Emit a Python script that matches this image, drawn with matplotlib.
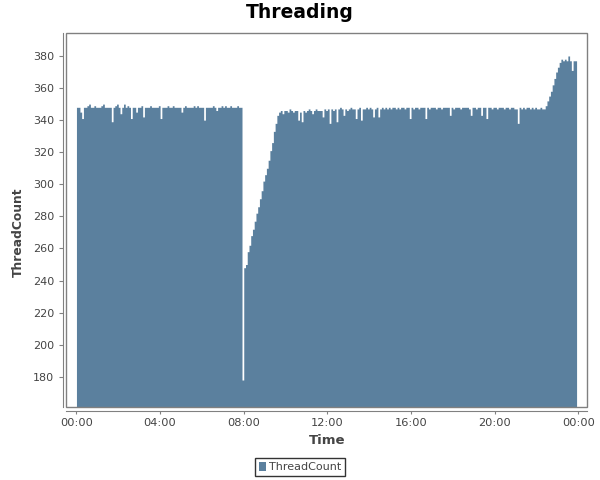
import numpy as np
import matplotlib
matplotlib.use('Agg')
import matplotlib.pyplot as plt
from matplotlib.patches import Rectangle

# leituras a cada 5 minutos, uma linha por hora (00, 05, ..., 55)
h00 = [348, 348, 345, 341, 348, 348, 349, 350, 348, 348, 349, 348]
h01 = [348, 348, 349, 350, 348, 348, 348, 348, 339, 348, 349, 350]
h02 = [348, 344, 348, 350, 348, 349, 348, 341, 348, 348, 345, 348]
h03 = [348, 349, 342, 348, 348, 348, 349, 348, 348, 348, 348, 349]
h04 = [341, 348, 348, 348, 349, 348, 348, 349, 348, 348, 348, 348]
h05 = [345, 348, 349, 348, 348, 348, 348, 349, 348, 349, 348, 348]
h06 = [348, 340, 348, 348, 348, 348, 349, 348, 346, 348, 348, 349]
h07 = [348, 349, 348, 348, 349, 348, 348, 348, 349, 348, 348, 178]
h08 = [248, 250, 258, 262, 268, 272, 277, 282, 286, 291, 296, 302]
h09 = [306, 310, 315, 321, 326, 333, 338, 343, 345, 346, 344, 346]
h10 = [346, 345, 347, 346, 345, 346, 346, 340, 345, 339, 346, 345]
h11 = [346, 347, 346, 344, 346, 347, 346, 346, 346, 342, 347, 346]
h12 = [347, 338, 347, 346, 347, 339, 347, 348, 347, 343, 347, 346]
h13 = [347, 348, 347, 347, 341, 347, 348, 340, 347, 347, 348, 347]
h14 = [348, 347, 342, 347, 348, 342, 347, 348, 347, 348, 347, 348]
h15 = [347, 348, 348, 347, 348, 347, 348, 348, 347, 348, 348, 341]
h16 = [348, 347, 348, 348, 347, 348, 348, 348, 341, 348, 347, 348]
h17 = [348, 348, 347, 348, 348, 347, 348, 348, 348, 348, 343, 348]
h18 = [347, 348, 348, 348, 347, 348, 348, 348, 348, 347, 343, 348]
h19 = [348, 347, 348, 348, 343, 348, 348, 341, 348, 348, 347, 348]
h20 = [348, 347, 348, 348, 348, 347, 348, 348, 347, 348, 348, 347]
h21 = [347, 338, 348, 347, 348, 347, 348, 348, 347, 348, 347, 348]
h22 = [347, 347, 348, 347, 347, 349, 352, 355, 358, 362, 366, 370]
h23 = [373, 376, 378, 377, 378, 377, 380, 377, 371, 377, 377, 377]

horas = [h00, h01, h02, h03, h04, h05, h06, h07, h08, h09, h10, h11,
         h12, h13, h14, h15, h16, h17, h18, h19, h20, h21, h22, h23]

tick_horas = [0, 4, 8, 12, 16, 20, 24]
tick_labels = ['00:00', '04:00', '08:00', '12:00', '16:00', '20:00', '00:00']
y_ticks = [180, 200, 220, 240, 260, 280, 300, 320, 340, 360, 380]

valores = np.concatenate([np.array(h, dtype=float) for h in horas])
tempo = np.arange(len(valores)) / 12.0  # horas

cor = '#5b809e'
cinza = '#808080'
texto = '#444444'

fig = plt.figure(figsize=(6, 4.8), dpi=100)
ax = fig.add_axes([0.11, 0.1515, 0.8678, 0.779])

ax.fill_between(tempo, valores, 100, step='post', color=cor, linewidth=0,
                label='ThreadCount')

ax.set_xlim(-0.5, 24.4)
ax.set_ylim(161, 394.1)

ax.set_xticks(tick_horas)
ax.set_xticklabels(tick_labels)
ax.set_yticks(y_ticks)

# eixos deslocados, estilo JFreeChart
for lado in ['top', 'right']:
    ax.spines[lado].set_visible(False)
ax.spines['left'].set_position(('outward', 2.5))
ax.spines['bottom'].set_position(('outward', 2.7))
ax.spines['left'].set_color(cinza)
ax.spines['bottom'].set_color(cinza)

ax.add_patch(Rectangle((0, 0), 1, 1, transform=ax.transAxes, fill=False,
                       edgecolor=cinza, linewidth=1, clip_on=False, zorder=5))

ax.tick_params(axis='y', direction='out', length=3, width=0.8, color=cinza,
               labelsize=8, labelcolor=texto, pad=3)
ax.tick_params(axis='x', direction='out', length=2, width=0.8, color=cinza,
               labelsize=8.2, labelcolor=texto, pad=3)

fig.text(0.5, 1 - 13 / 480, 'Threading', ha='center', va='center',
         fontsize=13.5, fontweight='bold', color='black')
fig.text(18 / 600, 1 - 232 / 480, 'ThreadCount', ha='center', va='center',
         rotation=90, fontsize=8.8, fontweight='bold', color=texto)
fig.text(327 / 600, 1 - 440 / 480, 'Time', ha='center', va='center',
         fontsize=9.5, fontweight='bold', color=texto)

leg = fig.legend(loc='center', bbox_to_anchor=(0.5, 1 - 467 / 480),
                 frameon=True, fancybox=False, fontsize=8, handlelength=0.6,
                 handleheight=0.9, handletextpad=0.3, borderpad=0.35,
                 labelcolor=texto)
leg.get_frame().set_edgecolor('black')
leg.get_frame().set_linewidth(1)

fig.savefig('out.png', dpi=100)
